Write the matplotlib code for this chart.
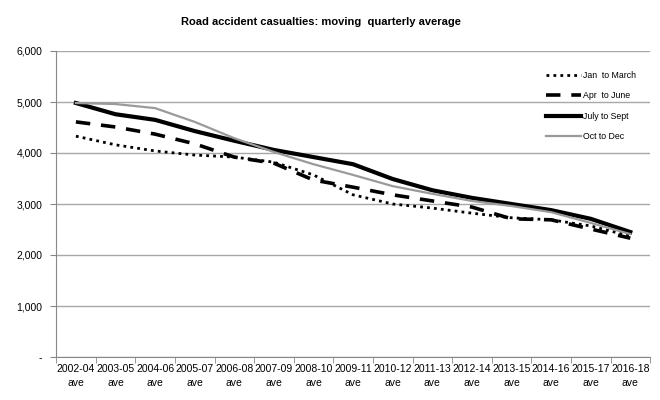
import matplotlib
matplotlib.use("Agg")
import matplotlib.pyplot as plt
import numpy as np
from matplotlib.ticker import FuncFormatter, FixedLocator

# Data
periods = ["2002-04", "2003-05", "2004-06", "2005-07", "2006-08", "2007-09",
           "2008-10", "2009-11", "2010-12", "2011-13", "2012-14", "2013-15",
           "2014-16", "2015-17", "2016-18"]
jan_mar = [4330, 4160, 4040, 3960, 3920, 3820, 3570, 3180, 3000, 2920,
           2820, 2730, 2690, 2570, 2370]
apr_jun = [4610, 4510, 4370, 4180, 3920, 3800, 3470, 3330, 3180, 3060,
           2940, 2710, 2690, 2510, 2330]
jul_sep = [4980, 4760, 4650, 4430, 4240, 4060, 3920, 3780, 3490, 3270,
           3120, 3000, 2880, 2710, 2450]
oct_dec = [4980, 4960, 4880, 4610, 4290, 4020, 3780, 3570, 3350, 3200,
           3060, 2960, 2840, 2630, 2410]

plt.rcParams["font.family"] = ["Liberation Sans", "DejaVu Sans"]

fig = plt.figure(figsize=(6.6, 4.0), dpi=100)
ax = fig.add_axes([0.085, 0.1075, 0.9, 0.765])

x = np.arange(len(periods))
ax.plot(x, jan_mar, color="black", lw=2.0, linestyle=(0, (1, 1.5)), label="Jan  to March")
ax.plot(x, apr_jun, color="black", lw=2.6, linestyle=(0, (4, 3)), label="Apr  to June")
ax.plot(x, jul_sep, color="black", lw=3.0, label="July to Sept")
ax.plot(x, oct_dec, color="#9a9a9a", lw=1.6, label="Oct to Dec")

ax.set_xlim(-0.5, len(periods) - 0.5)
ax.set_ylim(0, 6000)
ax.set_yticks(range(0, 6001, 1000))
ax.yaxis.set_major_formatter(FuncFormatter(lambda v, p: "-" if v == 0 else f"{int(v):,}"))
ax.yaxis.grid(True, color="#a8a8a8", lw=1.0)
ax.set_axisbelow(True)

ax.set_xticks(x)
ax.set_xticklabels([p + "\nave" for p in periods], fontsize=7.5, linespacing=1.45)
ax.xaxis.set_minor_locator(FixedLocator(np.arange(-0.5, len(periods), 1)))
ax.tick_params(axis="x", which="major", length=0, pad=5)
ax.tick_params(axis="x", which="minor", length=4, color="#888888")
ax.tick_params(axis="y", length=4, color="#888888", labelsize=7.5, pad=6)

for s in ["top", "right"]:
    ax.spines[s].set_visible(False)
ax.spines["left"].set_color("#888888")
ax.spines["bottom"].set_color("#888888")

fig.text(0.487, 0.945, "Road accident casualties: moving  quarterly average",
         fontsize=8, fontweight="bold", ha="center", va="center")

ax.legend(loc="upper right", bbox_to_anchor=(0.99, 0.96), frameon=False,
          fontsize=6.3, handlelength=4.0, labelspacing=1.3, handletextpad=0.3)

fig.savefig("out.png", dpi=100)
